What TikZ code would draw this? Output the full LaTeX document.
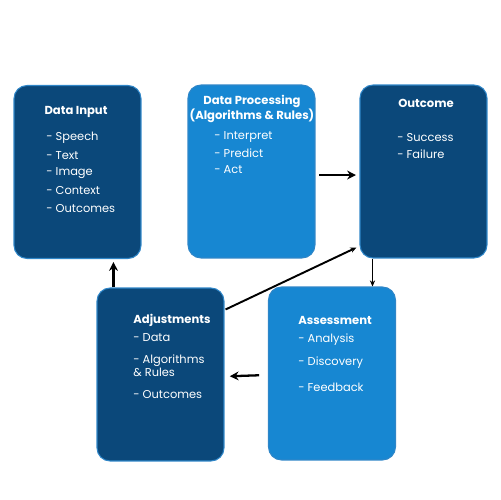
\documentclass[tikz,border=0pt]{standalone}
\usepackage{fontspec}
\setmainfont{Poppins}
\usepackage{xcolor}
\usetikzlibrary{positioning,calc,arrows.meta}

\definecolor{darkbox}{HTML}{0B487A}
\definecolor{lightbox}{HTML}{1787D2}
\definecolor{rimblue}{HTML}{2F86C8}

\begin{document}
\begin{tikzpicture}[x=0.02cm, y=-0.02cm,
  stage/.style={draw=rimblue, line width=0.6pt, rounded corners=0.26cm,
    minimum width=2.54cm, minimum height=3.46cm, inner sep=0pt},
  dark/.style={stage, fill=darkbox},
  light/.style={stage, fill=lightbox},
  head/.style={text=white, font=\fontsize{6.6}{8.2}\selectfont\bfseries, align=center, inner sep=0pt},
  item/.style={text=white, font=\fontsize{6.5}{7.4}\selectfont, anchor=west, inner sep=0pt},
  arr/.style={-{Stealth[length=5pt,width=5pt]}, line width=1.3pt},
  thin arr/.style={-{Stealth[length=3.5pt,width=3pt]}, line width=1.1pt}]
  \useasboundingbox (0,0) rectangle (500,500);

  % Data Input
  \node[dark] (input) at (77.5,172) {};
  \node[head] (inputT) at (76,112) {Data Input};
  \node[item] (in1) at (46,138) {- Speech};
  \node[item] (in2) at (46,156) {- Text};
  \node[item] (in3) at (46,173) {- Image};
  \node[item] (in4) at (46,191) {- Context};
  \node[item] (in5) at (46,209) {- Outcomes};

  % Data Processing
  \node[light] (proc) at (251.5,171.5) {};
  \node[head] (procT) at (252,109) {Data Processing\\(Algorithms \& Rules)};
  \node[item] (pr1) at (214,137) {- Interpret};
  \node[item] (pr2) at (214,153) {- Predict};
  \node[item] (pr3) at (214,170) {- Act};

  % Outcome
  \node[dark] (outcome) at (423.5,171.5) {};
  \node[head] (outT) at (426,103) {Outcome};
  \node[item] (ou1) at (397,138) {- Success};
  \node[item] (ou2) at (397,154) {- Failure};

  % Adjustments
  \node[dark] (adjust) at (160.5,374.5) {};
  \node[head, anchor=west] (adjT) at (133,320) {Adjustments};
  \node[item] (ad1) at (133,338) {- Data};
  \node[item, align=left] (ad2) at (133,366) {- Algorithms\\\& Rules};
  \node[item] (ad3) at (133,395) {- Outcomes};

  % Assessment
  \node[light] (assess) at (332,373.5) {};
  \node[head, anchor=west] (assT) at (298,320) {Assessment};
  \node[item] (as1) at (298,340) {- Analysis};
  \node[item] (as2) at (298,363) {- Discovery};
  \node[item] (as3) at (298,387) {- Feedback};

  % Connections
  \draw[arr] ([xshift=2pt,yshift=-2pt]proc.east) -- ([xshift=-2pt,yshift=-2pt]outcome.west);
  \draw[thin arr] ($(outcome.south west)+(13,0)$) -- ($(outcome.south west)+(13,28)$);
  \draw[thin arr] ($(adjust.north east)+(1,22)$) -- ($(outcome.south west)+(-3,-11)$);
  \draw[arr] ([xshift=-5pt,yshift=-1pt]assess.west) -- ([xshift=3pt,yshift=-1pt]adjust.east);
  \draw[arr] ($(adjust.north west)+(17,0)$) -- ($(input.south west)+(100,3)$ -| {$(adjust.north west)+(17,0)$});
\end{tikzpicture}
\end{document}
